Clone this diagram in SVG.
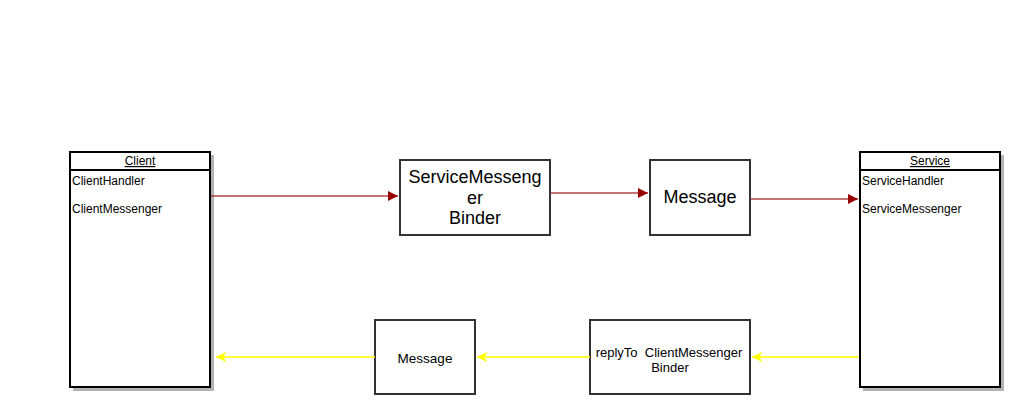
<svg xmlns="http://www.w3.org/2000/svg" width="1022" height="415" viewBox="0 0 1022 415">
<style>
.lbl{font-family:"Liberation Sans",Arial,sans-serif;fill:#000;white-space:pre}
.box{fill:#fff;stroke:#333;stroke-width:2}
.cls{fill:#fff;stroke:#000;stroke-width:2}
.shadow{fill:#b3b3b3}
.red{fill:none;stroke:#990000;stroke-opacity:0.55;stroke-width:2}
.yel{fill:none;stroke:#ffff00;stroke-width:1.5}
</style>
<defs>
<marker id="mr" viewBox="0 0 10 10" refX="10" refY="5" markerWidth="5" markerHeight="5" markerUnits="strokeWidth" orient="auto">
<path d="M0,0 L10,5 L0,10 Z" fill="#990000"/>
</marker>
<marker id="my" viewBox="0 0 10 10" refX="10" refY="5" markerWidth="7" markerHeight="7" markerUnits="strokeWidth" orient="auto">
<path d="M0,0 L10,5 L0,10 L3,5 Z" fill="#ffff00"/>
</marker>
</defs>
<rect width="1022" height="415" fill="#fff"/>
<g id="client">
<rect class="shadow" x="73" y="155" width="141" height="236"/>
<rect class="cls" x="70" y="152" width="140" height="235"/>
<line x1="70" y1="170" x2="210" y2="170" stroke="#000" stroke-width="2"/>
<text class="lbl" x="140" y="165" font-size="12" text-anchor="middle" text-decoration="underline">Client</text>
<text class="lbl" x="72" y="185" font-size="12">ClientHandler</text>
<text class="lbl" x="72" y="213" font-size="12">ClientMessenger</text>
</g>
<g id="service">
<rect class="shadow" x="863" y="155" width="141" height="236"/>
<rect class="cls" x="860" y="152" width="140" height="235"/>
<line x1="860" y1="170" x2="1000" y2="170" stroke="#000" stroke-width="2"/>
<text class="lbl" x="930" y="165" font-size="12" text-anchor="middle" text-decoration="underline">Service</text>
<text class="lbl" x="862" y="185" font-size="12">ServiceHandler</text>
<text class="lbl" x="862" y="213" font-size="12">ServiceMessenger</text>
</g>
<g id="smbinder">
<rect class="box" x="400" y="160" width="150" height="75"/>
<text class="lbl" font-size="18" text-anchor="middle"><tspan x="475" y="183">ServiceMesseng</tspan><tspan x="475" y="204">er</tspan><tspan x="475" y="224">Binder</tspan></text>
</g>
<g id="message1">
<rect class="box" x="650" y="160" width="100" height="75"/>
<text class="lbl" x="700" y="203" font-size="18" text-anchor="middle">Message</text>
</g>
<g id="message2">
<rect class="box" x="375" y="320" width="100" height="74"/>
<text class="lbl" x="425" y="363" font-size="13.5" text-anchor="middle">Message</text>
</g>
<g id="replyto">
<rect class="box" x="590" y="320" width="160" height="74"/>
<text class="lbl" font-size="13" text-anchor="middle" xml:space="preserve"><tspan x="669" y="357">replyTo  ClientMessenger</tspan><tspan x="670" y="372">Binder</tspan></text>
</g>
<g id="connectors">
<line class="red" x1="211" y1="196" x2="398" y2="196" marker-end="url(#mr)"/>
<line class="red" x1="551" y1="193" x2="648" y2="193" marker-end="url(#mr)"/>
<line class="red" x1="751" y1="199" x2="858" y2="199" marker-end="url(#mr)"/>
<line class="yel" x1="859" y1="357" x2="752" y2="357" marker-end="url(#my)"/>
<line class="yel" x1="590" y1="357" x2="477" y2="357" marker-end="url(#my)"/>
<line class="yel" x1="375" y1="357" x2="216" y2="357" marker-end="url(#my)"/>
</g>
</svg>
